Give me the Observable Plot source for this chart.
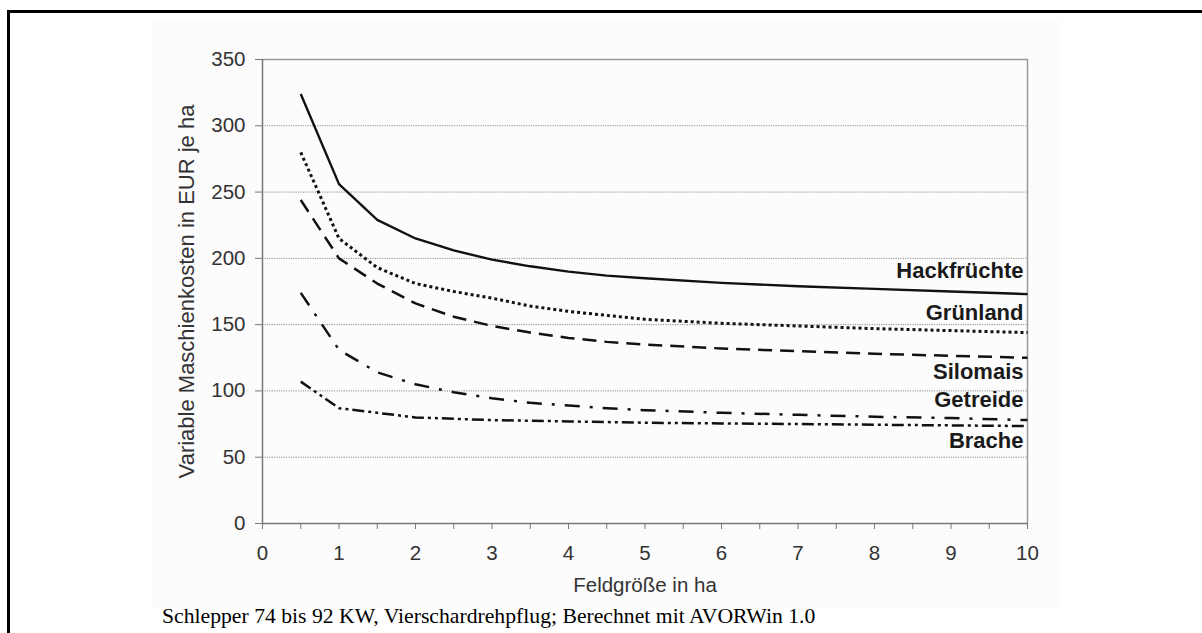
<!DOCTYPE html>
<html>
<head>
<meta charset="utf-8">
<script src="https://cdn.jsdelivr.net/npm/d3@7"></script>
<script src="https://cdn.jsdelivr.net/npm/@observablehq/plot@0.6"></script>
<style>
  html, body { margin: 0; padding: 0; background: #fff; }
  #wrap { position: relative; width: 1202px; height: 633px; overflow: hidden; background: #fff; }
  #panel { position: absolute; left: 152px; top: 20px; width: 908px; height: 588px; background: #fcfcfc; }
  #box { position: absolute; left: 7px; top: 10px; width: 1300px; height: 700px; border-left: 3px solid #000; border-top: 3px solid #000; box-sizing: border-box; z-index: 5; pointer-events: none; }
  #chart { position: absolute; left: 0; top: 0; }
  #caption { position: absolute; left: 162px; top: 603px; font-family: "Liberation Serif", "Times New Roman", serif; font-size: 21.7px; line-height: 26px; color: #000; white-space: nowrap; }
</style>
</head>
<body>
<div id="wrap">
  <div id="panel"></div>
  <div id="chart"></div>
  <div id="box"></div>
  <div id="caption"></div>
</div>
<script>
// ---- data ----
const fieldSize = [0.5, 1, 1.5, 2, 2.5, 3, 3.5, 4, 4.5, 5, 6, 7, 8, 9, 10];
const hackfruechte = [324, 256, 229, 215, 206, 199, 194, 190, 187, 185, 181.5, 179, 177, 175, 173];
const gruenland   = [280, 215, 193, 181, 175, 170, 164, 160, 157, 154, 151, 149, 147, 145.5, 144];
const silomais    = [244, 200, 181, 166, 156, 149, 144, 140, 137, 135, 132, 130, 128, 126.5, 125];
const getreide    = [174, 131, 114, 105, 99, 94.5, 91, 89, 87, 85.5, 83.5, 82, 80.5, 79.5, 78];
const brache      = [107, 87, 83.5, 80, 79, 78, 77.5, 77, 76.5, 76, 75.5, 75, 74.5, 74, 73.5];

const seriesNames = ["Hackfrüchte", "Grünland", "Silomais", "Getreide", "Brache"];
const seriesValues = [hackfruechte, gruenland, silomais, getreide, brache];
const labelValues = [190.5, 159, 114, 93, 62];

const yTicks = [0, 50, 100, 150, 200, 250, 300, 350];
const gridTicks = [50, 100, 150, 200, 250, 300];
const xTicks = [0, 0.5, 1, 1.5, 2, 2.5, 3, 3.5, 4, 4.5, 5, 5.5, 6, 6.5, 7, 7.5, 8, 8.5, 9, 9.5, 10];

const xTitle = "Feldgröße in ha";
const yTitle = "Variable Maschienkosten in EUR je ha";
const captionText = "Schlepper 74 bis 92 KW, Vierschardrehpflug; Berechnet mit AVORWin 1.0";

// ---- styles ----
const dashes = ["none", "3,3", "14,8", "15,10,3,10", "12,4,3,4,3,4"];
const widths = [2.4, 3, 2.5, 2.5, 2.5];

const rows = [];
seriesNames.forEach((name, i) => {
  fieldSize.forEach((x, j) => rows.push({series: name, x, y: seriesValues[i][j]}));
});

const lineMarks = seriesNames.map((name, i) =>
  Plot.lineY(rows.filter(d => d.series === name), {
    x: "x", y: "y", stroke: "#111", strokeWidth: widths[i],
    strokeDasharray: dashes[i] === "none" ? undefined : dashes[i],
    strokeLinecap: "butt", strokeLinejoin: "round"
  })
);

const labels = seriesNames.map((name, i) => ({name, y: labelValues[i]}));

const H = 600;
const chart = Plot.plot({
  width: 1202,
  height: H,
  marginLeft: 262,
  marginRight: 175,
  marginTop: 59,
  marginBottom: H - 523,
  style: {background: "transparent", overflow: "visible", fontFamily: "'Liberation Sans', Arial, sans-serif"},
  x: {domain: [0, 10]},
  y: {domain: [0, 350]},
  marks: [
    Plot.ruleY(gridTicks, {stroke: "#8a8a8a", strokeWidth: 1, strokeDasharray: "1.2,1.2"}),
    Plot.ruleY([350], {stroke: "#999", strokeWidth: 1.5}),
    Plot.ruleX([10], {y1: 0, y2: 350, stroke: "#999", strokeWidth: 1.5}),
    Plot.ruleX([0], {y1: 0, y2: 350, stroke: "#777", strokeWidth: 1.5}),
    Plot.ruleY([0], {stroke: "#777", strokeWidth: 1.5}),
    Plot.axisY({ticks: yTicks, tickSize: 7, tickPadding: 10, fontSize: 20.5, stroke: "#777", fill: "#333", label: null}),
    Plot.axisX({ticks: xTicks, tickSize: 6, tickPadding: 16, fontSize: 20.5, stroke: "#777", fill: "#333", label: null,
      tickFormat: d => Number.isInteger(d) ? String(d) : ""}),
    ...lineMarks,
    Plot.text(labels, {x: () => 10, y: "y", text: "name", textAnchor: "end", dx: -4, lineAnchor: "middle",
      fontSize: 22, fontWeight: "bold", fill: "#1a1a1a"}),
    Plot.text([yTitle], {frameAnchor: "left", textAnchor: "middle", rotate: -90, dx: -76, fontSize: 22, fill: "#333", lineAnchor: "middle"}),
    Plot.text([xTitle], {frameAnchor: "bottom", textAnchor: "middle", dy: 62, fontSize: 20.5, fill: "#333", lineAnchor: "middle"})
  ]
});
document.getElementById("chart").appendChild(chart);
document.getElementById("caption").textContent = captionText;
</script>
</body>
</html>
